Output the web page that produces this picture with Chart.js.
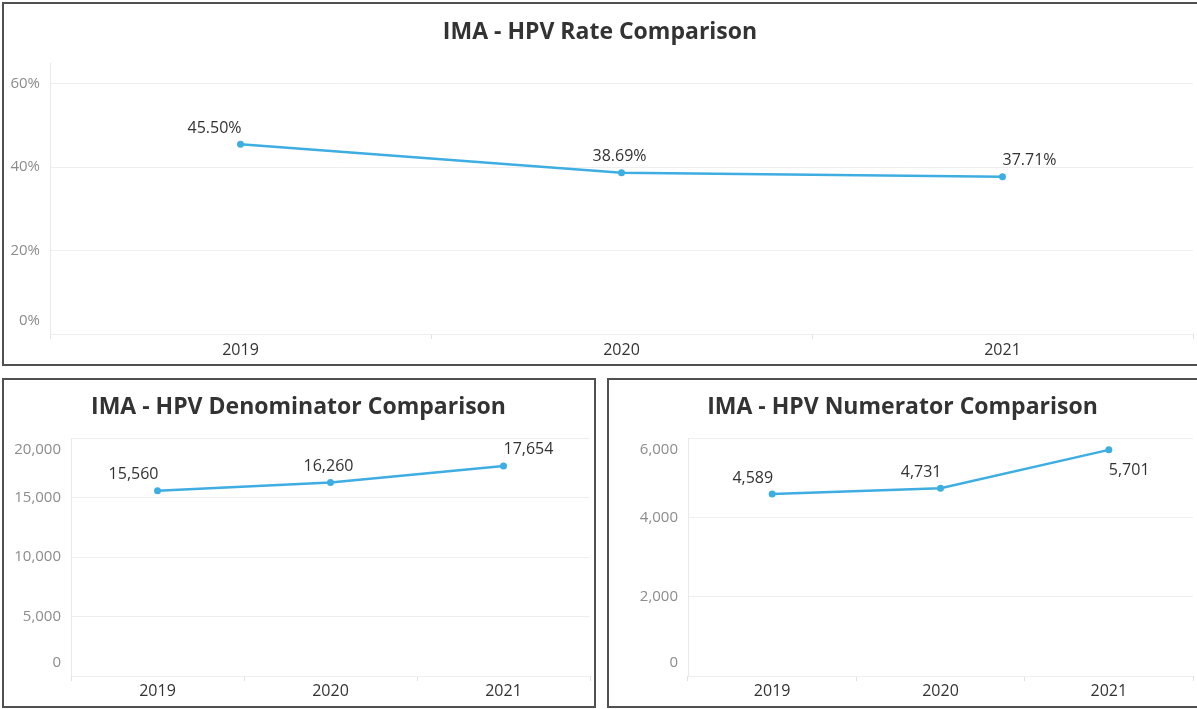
<!DOCTYPE html>
<html><head><meta charset="utf-8">
<script src="https://cdn.jsdelivr.net/npm/chart.js@4.4.1/dist/chart.umd.min.js"></script>
<style>
html,body{margin:0;padding:0;background:#fff;width:1197px;height:709px;overflow:hidden;}
.panel{position:absolute;box-sizing:border-box;border:2px solid #505050;background:#fff;overflow:hidden;}
.panel.open{border-right:none;}
.panel canvas{position:absolute;left:0;top:0;}
</style></head><body>
<div class="panel open" style="left:2px;top:2px;width:1195px;height:364px;"><canvas id="c1" width="1193" height="360" style="width:1193px;height:360px"></canvas></div>
<div class="panel" style="left:2px;top:378px;width:594px;height:330px;"><canvas id="c2" width="590" height="326" style="width:590px;height:326px"></canvas></div>
<div class="panel open" style="left:607px;top:378px;width:590px;height:330px;"><canvas id="c3" width="588" height="326" style="width:588px;height:326px"></canvas></div>
<script>
// ---- data ----
const years = ['2019', '2020', '2021'];
const rateValues = [45.50, 38.69, 37.71];
const denominatorValues = [15560, 16260, 17654];
const numeratorValues = [4589, 4731, 5701];
const rateTicks = [0, 20, 40, 60];
const denominatorTicks = [0, 5000, 10000, 15000, 20000];
const numeratorTicks = [0, 2000, 4000, 6000];

// ---- style ----
const LINE = '#3eade1';
const FONT = "'Open Sans', 'Noto Sans', sans-serif";
const fmtInt = v => v.toLocaleString('en-US');

function labelPlugin(opt) {
  return {
    id: 'customLabels',
    afterDatasetsDraw(chart) {
      const ctx = chart.ctx, y = chart.scales.y, ca = chart.chartArea;
      ctx.save();
      ctx.font = '15px ' + FONT;
      ctx.fillStyle = '#8c8c8c';
      ctx.textAlign = 'right';
      ctx.textBaseline = 'middle';
      y.ticks.forEach(t => {
        let py = y.getPixelForValue(t.value);
        if (py > ca.bottom - 6) py -= 13;
        else if (py < ca.top + 6) py += 12;
        ctx.fillText(opt.yFmt(t.value), ca.left - 10, py);
      });
      const meta = chart.getDatasetMeta(0);
      const data = chart.data.datasets[0].data;
      ctx.font = '16px ' + FONT;
      ctx.fillStyle = '#333333';
      meta.data.forEach((pt, i) => {
        const p = opt.place[i];
        ctx.textAlign = p.h;
        const dx = p.h === 'right' ? 1 : (p.h === 'left' ? 0 : -2);
        const dy = p.v === 'below' ? 21 : -16;
        ctx.fillText(opt.labelFmt(data[i]), pt.x + dx, pt.y + dy);
      });
      ctx.restore();
    }
  };
}

function makeChart(id, o) {
  new Chart(document.getElementById(id), {
    type: 'line',
    data: {
      labels: years,
      datasets: [{
        data: o.values,
        borderColor: LINE,
        backgroundColor: LINE,
        borderWidth: 2.5,
        pointRadius: 3.5,
        pointBackgroundColor: LINE,
        pointBorderWidth: 0,
        tension: 0,
        clip: false
      }]
    },
    options: {
      responsive: false,
      animation: false,
      layout: { padding: { left: 0, right: o.padRight, top: 0, bottom: 0 } },
      plugins: {
        legend: { display: false },
        tooltip: { enabled: false },
        title: {
          display: true,
          text: o.title,
          color: '#333333',
          font: { family: FONT, size: 23, weight: '700' },
          padding: { top: o.titleTop, bottom: o.titleBottom }
        }
      },
      scales: {
        x: {
          type: 'category',
          offset: true,
          grid: { display: true, drawOnChartArea: false, drawTicks: true, tickLength: 5, color: '#e2e2e2', offset: true },
          border: { display: false },
          ticks: { color: '#333333', font: { family: FONT, size: 16 }, padding: o.xPad, maxRotation: 0 },
          afterFit: s => { s.height = 30; }
        },
        y: {
          min: 0,
          max: o.max,
          grid: { color: '#eeeeee', drawTicks: false, lineWidth: 1 },
          border: { display: true, color: '#e9e9e9' },
          ticks: { display: false },
          afterBuildTicks: s => { s.ticks = o.ticks.map(v => ({ value: v })); },
          afterFit: s => { s.width = o.axisWidth; }
        }
      }
    },
    plugins: [labelPlugin({ yFmt: o.yFmt, labelFmt: o.labelFmt, place: o.place })]
  });
}

makeChart('c1', {
  title: 'IMA - HPV Rate Comparison',
  values: rateValues, ticks: rateTicks, max: 65,
  yFmt: v => v + '%', labelFmt: v => v.toFixed(2) + '%',
  axisWidth: 46, padRight: 1, titleTop: 15, titleBottom: 16.4, xPad: 2,
  place: [{ h: 'right', v: 'above' }, { h: 'center', v: 'above' }, { h: 'left', v: 'above' }]
});
makeChart('c2', {
  title: 'IMA - HPV Denominator Comparison',
  values: denominatorValues, ticks: denominatorTicks, max: 20000,
  yFmt: fmtInt, labelFmt: fmtInt,
  axisWidth: 67, padRight: 1, titleTop: 14, titleBottom: 16.4, xPad: 1,
  place: [{ h: 'right', v: 'above' }, { h: 'center', v: 'above' }, { h: 'left', v: 'above' }]
});
makeChart('c3', {
  title: 'IMA - HPV Numerator Comparison',
  values: numeratorValues, ticks: numeratorTicks, max: 6000,
  yFmt: fmtInt, labelFmt: fmtInt,
  axisWidth: 79, padRight: 1, titleTop: 14, titleBottom: 16.4, xPad: 1,
  place: [{ h: 'right', v: 'above' }, { h: 'right', v: 'above' }, { h: 'left', v: 'below' }]
});
</script>
</body></html>
